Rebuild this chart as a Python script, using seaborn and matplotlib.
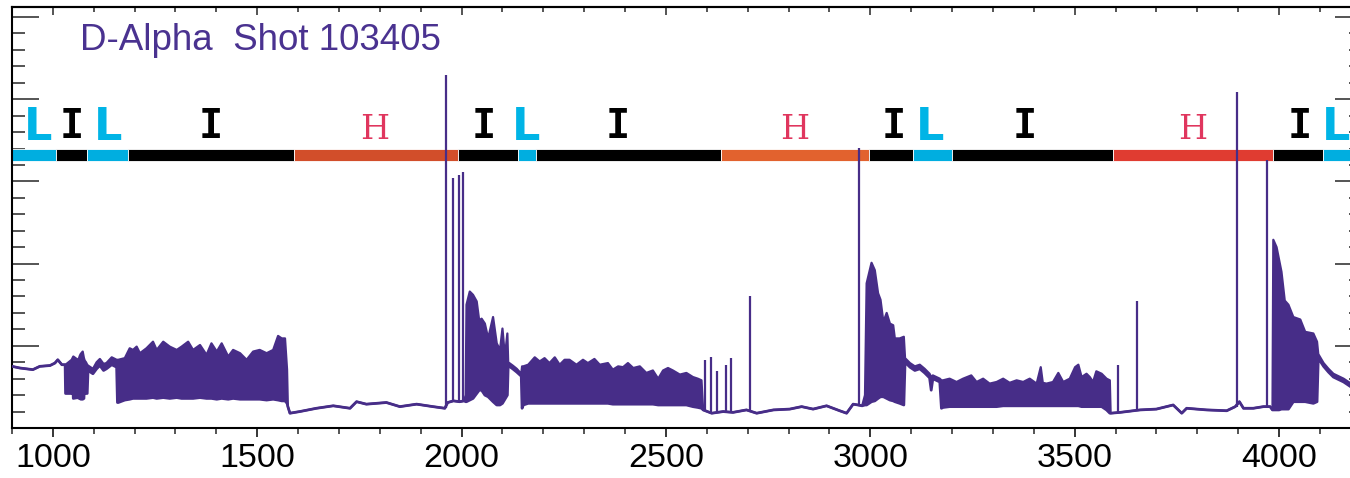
import numpy as np
import matplotlib
matplotlib.use("Agg")
import matplotlib.pyplot as plt
import seaborn as sns
from matplotlib.ticker import MultipleLocator

# ---------------- data ----------------
# D-alpha signal: time, lower envelope, upper envelope (equal where the trace is a single line)
sig_t = [900, 919, 951, 968, 993, 1005, 1012, 1022, 1030,
         1031, 1046, 1048, 1050, 1061, 1064, 1066, 1068, 1073, 1076, 1078, 1081, 1084, 1086,
         1098, 1107, 1115, 1124, 1131, 1144, 1156,
         1158, 1160, 1176, 1188, 1196, 1205, 1213, 1229, 1245, 1254, 1270, 1286, 1303, 1315,
         1331, 1343, 1360, 1376, 1388, 1401, 1413, 1429, 1441, 1458, 1474, 1490, 1506, 1523,
         1539, 1551, 1560, 1568, 1573, 1575,
         1580, 1604, 1645, 1686, 1727, 1743, 1767, 1816, 1849, 1890, 1930, 1959,
         1966, 1980, 1995, 2006,
         2010, 2012, 2020, 2028, 2037, 2043, 2049, 2057, 2065, 2077, 2086, 2094, 2100, 2106, 2112,
         2114, 2125, 2135, 2146,
         2148, 2151, 2163, 2179, 2191, 2203, 2215, 2228, 2240, 2252, 2264, 2281, 2297, 2309,
         2325, 2338, 2358, 2370, 2383, 2395, 2407, 2420, 2436, 2452, 2468, 2481, 2493, 2505,
         2517, 2534, 2550, 2566, 2578, 2587, 2591,
         2612, 2640, 2664, 2697, 2722, 2763, 2803, 2832, 2860, 2893, 2925, 2942, 2958, 2970, 2980,
         2987, 2991, 3003, 3011, 3019, 3025, 3032, 3040, 3048, 3056, 3060, 3072, 3082,
         3085, 3097, 3109, 3121, 3133, 3145, 3149, 3153, 3170,
         3174, 3178, 3194, 3211, 3227, 3247, 3260, 3276, 3292, 3309, 3325, 3341, 3358, 3374,
         3390, 3407, 3417, 3422, 3431, 3447, 3460, 3472, 3488, 3501, 3509, 3517, 3529, 3537,
         3545, 3553, 3566, 3578, 3586, 3588,
         3611, 3660, 3700, 3741, 3762, 3774, 3823, 3872, 3893, 3903, 3913, 3937, 3962, 3978, 3984,
         3986, 3994, 4000, 4006, 4014, 4023, 4035, 4052, 4064, 4084, 4093,
         4096, 4109, 4121, 4133, 4158, 4182, 4203]
sig_lo = [.75, .73, .71, .75, .76, .79, .83, .77, .77,
          .42, .42, .64, .36, .37, .36, .64, .35, .35, .36, .65, .42, .42, .70,
          .66, .72, .76, .70, .72, .77, .74,
          .31, .31, .34, .35, .36, .36, .36, .36, .37, .36, .37, .36, .37, .36,
          .36, .36, .37, .36, .36, .35, .36, .35, .36, .35, .35, .35, .35, .34,
          .35, .34, .33, .33, .30, .26,
          .18, .20, .24, .27, .24, .32, .29, .31, .26, .29, .26, .24,
          .31, .33, .32, .33,
          .32, .32, .34, .36, .42, .46, .46, .40, .38, .32, .28, .28, .30, .35, .40,
          .76, .72, .68, .63,
          .24, .28, .30, .30, .30, .30, .30, .30, .30, .30, .30, .30, .30, .30,
          .30, .30, .30, .29, .29, .29, .29, .29, .29, .29, .29, .28, .28, .28,
          .28, .28, .28, .26, .25, .24, .22,
          .18, .20, .19, .22, .18, .22, .23, .26, .23, .27, .21, .18, .29, .28, .27,
          .28, .28, .32, .33, .36, .38, .38, .36, .34, .33, .32, .30, .28,
          .80, .74, .70, .72, .67, .61, .46, .60, .56,
          .24, .25, .26, .26, .26, .26, .26, .26, .26, .26, .27, .27, .27, .27,
          .27, .27, .27, .27, .27, .27, .27, .27, .27, .27, .27, .26, .26, .26,
          .26, .26, .26, .22, .18, .18,
          .19, .22, .23, .28, .18, .24, .22, .21, .26, .32, .24, .24, .26, .26, .22,
          .22, .22, .22, .23, .23, .23, .32, .32, .32, .30, .32,
          .85, .75, .68, .62, .56, .48, .45]
sig_hi = [.75, .73, .71, .75, .76, .79, .83, .77, .77,
          .77, .83, .85, .87, .83, .85, .88, .90, .93, .85, .82, .80, .77, .76,
          .72, .80, .84, .78, .79, .86, .83,
          .83, .83, .85, .97, .95, .99, .91, .97, 1.05, .95, 1.05, .99, .95, .99,
          1.05, .95, 1.01, .89, 1.03, .93, 1.03, .87, .95, .91, .83, .93, .95, .91,
          .95, 1.12, 1.09, 1.09, .71, .26,
          .18, .20, .24, .27, .24, .32, .29, .31, .26, .29, .26, .24,
          .31, .33, .32, .33,
          .40, 1.50, 1.66, 1.62, 1.54, 1.31, 1.33, 1.27, 1.09, 1.35, 1.03, .95, 1.21, .87, 1.15,
          .80, .76, .72, .66,
          .75, .75, .77, .86, .81, .85, .79, .86, .77, .83, .83, .77, .83, .79,
          .84, .77, .79, .71, .75, .74, .79, .73, .75, .67, .70, .60, .70, .73,
          .70, .65, .67, .62, .60, .58, .22,
          .18, .20, .19, .22, .18, .22, .23, .26, .23, .27, .21, .18, .29, .28, .27,
          .40, 1.76, 2.01, 1.92, 1.64, 1.56, 1.29, 1.40, 1.27, 1.25, 1.09, 1.09, 1.11,
          .85, .79, .75, .77, .72, .66, .62, .64, .60,
          .58, .58, .60, .56, .60, .64, .56, .60, .54, .56, .60, .55, .58, .56,
          .60, .54, .74, .55, .54, .56, .67, .56, .60, .74, .77, .62, .66, .62,
          .56, .69, .66, .60, .58, .18,
          .19, .22, .23, .28, .18, .24, .22, .21, .26, .32, .24, .24, .26, .26, .22,
          2.29, 2.20, 2.05, 1.90, 1.55, 1.50, 1.35, 1.32, 1.17, 1.15, 1.05,
          .90, .79, .72, .66, .60, .52, .49]

# isolated spikes: time, base level, top level
spike_t = [1963, 1979, 1993, 2004, 2595, 2609, 2626, 2648, 2659, 2705, 2973, 3606, 3653, 3898, 3970]
spike_base = [.24, .33, .32, .33, .22, .18, .19, .20, .19, .21, .28, .19, .22, .26, .26]
spike_top = [4.29, 3.04, 3.08, 3.11, .83, .86, .69, .77, .85, 1.60, 3.41, .77, 1.54, 4.09, 3.26]

# confinement phases (L / I / H)
phase_label = ["L", "I", "L", "I", "H", "I", "L", "I", "H", "I", "L", "I", "H", "I", "L"]
phase_start = [897, 1007, 1083, 1184, 1590, 1991, 2138, 2182, 2634, 2997, 3104, 3200, 3594, 3985, 4107]
phase_end = [1007, 1083, 1184, 1590, 1991, 2138, 2182, 2634, 2997, 3104, 3200, 3594, 3985, 4107, 4210]
phase_text_x = [963, 1046, 1136, 1386, 1787, 2054, 2157, 2382, 2815, 3058, 3147, 3378, 3789, 4051, 4140]
h_colors = ["#D24E2A", "#E2622E", "#E03C31"]

x_ticks = [1000, 1500, 2000, 2500, 3000, 3500, 4000]
title_text = "D-Alpha  Shot 103405"

# ---------------- style ----------------
sns.set_style("ticks")
plt.rcParams["font.family"] = ["Liberation Sans", "DejaVu Sans"]

purple = "#472D88"
cyan = "#00AEE0"

fig = plt.figure(figsize=(13.5, 4.78), dpi=100)
ax = fig.add_axes([12 / 1350, 50 / 478, 1350 / 1350, 421 / 478])
ax.set_xlim(900, 4203)
ax.set_ylim(0, 421 / 82.2)

# phase bars
bar_colors = []
hi_idx = 0
for lab in phase_label:
    if lab == "L":
        bar_colors.append(cyan)
    elif lab == "I":
        bar_colors.append("black")
    else:
        bar_colors.append(h_colors[hi_idx])
        hi_idx += 1
widths = np.array(phase_end) - np.array(phase_start)
ax.barh(y=3.32, width=widths, left=phase_start, height=0.15, color=bar_colors,
        edgecolor="white", linewidth=0.6, zorder=2)

for lab, xt in zip(phase_label, phase_text_x):
    if lab == "L":
        ax.text(xt, 3.50, "L", ha="center", va="baseline", fontsize=32,
                family="DejaVu Sans", fontweight="bold", color="#00B4E6", zorder=4)
    elif lab == "I":
        ax.text(xt, 3.53, "I", ha="center", va="baseline", fontsize=29,
                family="DejaVu Sans Mono", fontweight="bold", color="black", zorder=4)
    else:
        ax.text(xt, 3.52, "H", ha="center", va="baseline", fontsize=24,
                family="DejaVu Serif", color="#E0365E", zorder=4)

# signal
ax.fill_between(sig_t, sig_lo, sig_hi, color=purple, linewidth=0, zorder=3)
sns.lineplot(x=sig_t, y=sig_lo, estimator=None, sort=False, color=purple, linewidth=2.0, ax=ax, zorder=3)
sns.lineplot(x=sig_t, y=sig_hi, estimator=None, sort=False, color=purple, linewidth=1.6, ax=ax, zorder=3)
ax.vlines(spike_t, spike_base, spike_top, color=purple, linewidth=1.6, zorder=3)

ax.text(1066, 4.60, title_text, ha="left", va="baseline", fontsize=26.5, color="#4A3290")

# axes / ticks
ax.set_xlabel("")
ax.set_ylabel("")
ax.xaxis.set_major_locator(MultipleLocator(500))
ax.xaxis.set_minor_locator(MultipleLocator(100))
ax.set_xticks(x_ticks)
ax.set_xticklabels([str(v) for v in x_ticks])
ax.yaxis.set_major_locator(MultipleLocator(1))
ax.yaxis.set_minor_locator(MultipleLocator(0.2))

ax.tick_params(axis="x", which="major", direction="out", length=6.5, width=1.1,
               labelsize=24.5, pad=4.5, bottom=True, top=False, colors="black")
ax.tick_params(axis="x", which="minor", direction="out", length=4.0, width=1.1,
               bottom=True, top=False)
ax.tick_params(axis="y", which="major", direction="in", length=19.4, width=1.1,
               left=True, right=True, labelleft=False, labelright=False)
ax.tick_params(axis="y", which="minor", direction="in", length=9.4, width=1.1,
               left=True, right=True)

sec = ax.secondary_xaxis("top")
sec.xaxis.set_major_locator(MultipleLocator(500))
sec.xaxis.set_minor_locator(MultipleLocator(100))
sec.tick_params(axis="x", which="major", direction="in", length=5.8, width=1.1, labeltop=False)
sec.tick_params(axis="x", which="minor", direction="in", length=3.6, width=1.1)
for sp in sec.spines.values():
    sp.set_linewidth(1.5)
    sp.set_color("black")

for sp in ax.spines.values():
    sp.set_visible(True)
    sp.set_linewidth(1.5)
    sp.set_color("black")

fig.savefig("out.png", dpi=100)
